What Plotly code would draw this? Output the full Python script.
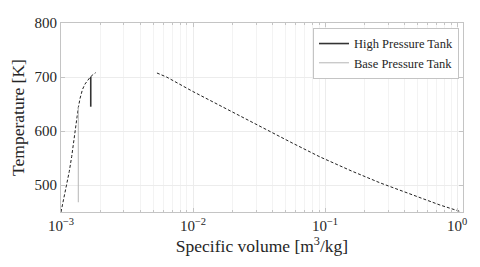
import plotly.graph_objects as go

# Saturation dome (dashed), liquid branch
sat_liq_v = [1.0e-3, 1.05e-3, 1.104e-3, 1.155e-3, 1.205e-3, 1.26e-3, 1.315e-3, 1.352e-3, 1.393e-3, 1.455e-3, 1.52e-3, 1.59e-3, 1.66e-3, 1.74e-3, 1.83e-3]
sat_liq_T = [450, 474, 497, 525, 552.6, 590, 624, 643, 660, 677, 687, 694, 699.4, 704, 708]
# Saturation dome, vapour branch
sat_vap_v = [5.33e-3, 6.3e-3, 0.01, 0.01778, 0.03162, 0.05623, 0.0916, 0.1585, 0.261, 0.3715, 0.525, 0.741, 1.054]
sat_vap_T = [707.4, 700, 673, 641, 609, 578, 552, 526, 504, 490, 476, 463, 451]

# Tanks
hp_v = [1.68e-3, 1.68e-3]
hp_T = [700.6, 645]
bp_v = [1.352e-3, 1.352e-3]
bp_T = [645, 468]

x_tickvals = [1e-3, 1e-2, 1e-1, 1e0]
x_ticktext = ["10<sup>\u22123</sup>", "10<sup>\u22122</sup>", "10<sup>\u22121</sup>", "10<sup>0</sup>"]
x_minorvals = [m * d for d in (1e-3, 1e-2, 1e-1) for m in range(2, 10)]
y_tickvals = [500, 600, 700, 800]

FONT = "Liberation Serif"

fig = go.Figure()
fig.add_trace(go.Scatter(x=sat_liq_v, y=sat_liq_T, mode="lines", showlegend=False,
                         line=dict(color="#222", width=1, dash="3px,2px")))
fig.add_trace(go.Scatter(x=sat_vap_v, y=sat_vap_T, mode="lines", showlegend=False,
                         line=dict(color="#222", width=1, dash="3px,2px")))
fig.add_trace(go.Scatter(x=hp_v, y=hp_T, mode="lines", name="High Pressure Tank",
                         line=dict(color="#333", width=1.6)))
fig.add_trace(go.Scatter(x=bp_v, y=bp_T, mode="lines", name="Base Pressure Tank",
                         line=dict(color="#b5b5b5", width=1)))

axis_common = dict(
    showline=True, linecolor="#c4c4c4", linewidth=1, mirror="allticks",
    ticks="inside", ticklen=4, tickcolor="#c4c4c4", automargin=False,
    showgrid=True, gridcolor="#ececec", gridwidth=1, zeroline=False,
    tickfont=dict(family=FONT, size=15, color="#262626"),
)

fig.update_xaxes(type="log", range=[-3, 0.045], tickvals=x_tickvals, ticktext=x_ticktext,
                 minor=dict(tickmode="array", tickvals=x_minorvals, ticks="inside", ticklen=2,
                            tickcolor="#c4c4c4", showgrid=True, gridcolor="#f3f3f3"),
                 title=dict(text="Specific volume [m<sup>3</sup>/kg]", standoff=3,
                            font=dict(family=FONT, size=17.5, color="#262626")),
                 **axis_common)
fig.update_yaxes(range=[450, 800], tickvals=y_tickvals,
                 title=dict(text="Temperature [K]", standoff=8,
                            font=dict(family=FONT, size=17.5, color="#262626")),
                 **axis_common)

# page body has an 8px default margin, so the figure is sized to fit the window
fig.update_layout(
    width=472, height=259,
    margin=dict(l=53, r=17, t=15, b=55),
    paper_bgcolor="white", plot_bgcolor="white",
    legend=dict(x=0.99, y=0.974, xanchor="right", yanchor="top",
                bgcolor="white", bordercolor="#c4c4c4", borderwidth=1,
                font=dict(family=FONT, size=12.5, color="#262626"),
                itemwidth=30, tracegroupgap=0),
)

fig.write_html("out.html")
